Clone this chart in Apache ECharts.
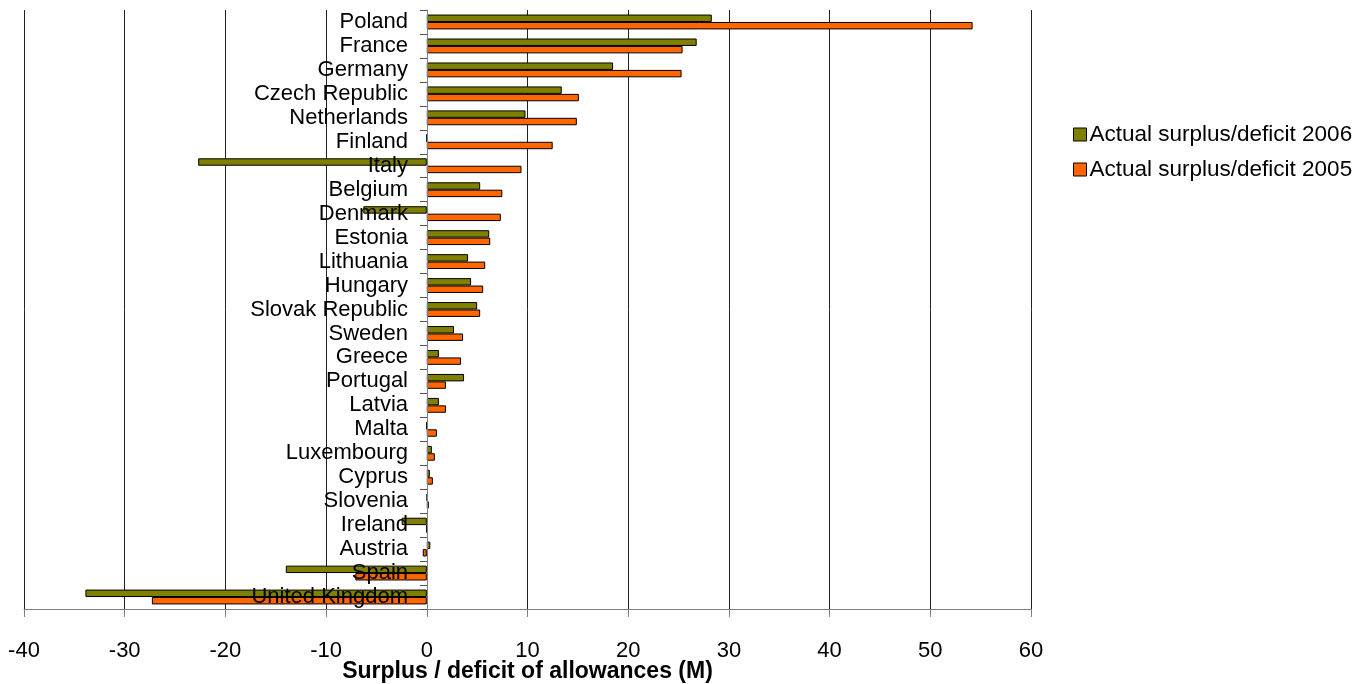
<!DOCTYPE html>
<html><head><meta charset="utf-8">
<script src="https://cdn.jsdelivr.net/npm/echarts@6/dist/echarts.min.js"></script>
<style>html,body{margin:0;padding:0;background:#fff}#c{width:1372px;height:684px}</style>
</head><body><div id="c"></div>
<script>
const categories = ["Poland","France","Germany","Czech Republic","Netherlands","Finland","Italy","Belgium","Denmark","Estonia","Lithuania","Hungary","Slovak Republic","Sweden","Greece","Portugal","Latvia","Malta","Luxembourg","Cyprus","Slovenia","Ireland","Austria","Spain","United Kingdom"];
const surplus2006 = [28.3,26.8,18.5,13.4,9.8,0,-22.7,5.3,-6.3,6.2,4.1,4.4,5.0,2.7,1.2,3.7,1.2,0,0.5,0.3,0.05,-2.5,0.35,-14.0,-33.9];
const surplus2005 = [54.2,25.4,25.3,15.1,14.9,12.5,9.4,7.5,7.35,6.3,5.8,5.6,5.3,3.6,3.4,1.9,1.9,1.0,0.8,0.6,0.2,0,-0.4,-7.1,-27.3];
const seriesNames = ["Actual surplus/deficit 2006","Actual surplus/deficit 2005"];
const xTicks = {min:-40,max:60,interval:10};

const chart = echarts.init(document.getElementById('c'));
const font = 'Liberation Sans, Arial, sans-serif';
chart.setOption({
  animation:false,
  textStyle:{fontFamily:font},
  grid:{left:24,right:341,top:10,bottom:75,containLabel:false,outerBoundsMode:'none'},
  legend:{
    orient:'vertical', left:1068, top:118, itemWidth:13, itemHeight:13, itemGap:12,
    itemStyle:{borderColor:'#000',borderWidth:1},
    icon:'rect',
    textStyle:{fontSize:22.5,color:'#000',fontFamily:font,padding:[0,0,0,-2]},
    data:seriesNames
  },
  xAxis:{
    type:'value', min:xTicks.min, max:xTicks.max, interval:xTicks.interval,
    name:'Surplus / deficit of allowances (M)', nameLocation:'middle', nameGap:51, nameMoveOverlap:false,
    nameTextStyle:{fontSize:23,fontWeight:'bold',color:'#000',fontFamily:font},
    axisLine:{show:true,onZero:false,lineStyle:{color:'#808080',width:1}},
    axisTick:{show:true,length:8,lineStyle:{color:'#808080'}},
    axisLabel:{fontSize:22,color:'#000',margin:31,fontFamily:font},
    splitLine:{show:true,lineStyle:{color:'#222',width:1}}
  },
  yAxis:{
    type:'category', data:categories, inverse:true, z:10, offset:-403,
    axisLine:{onZero:false,lineStyle:{color:'#808080',width:1}},
    axisTick:{show:true,length:7,lineStyle:{color:'#555'}},
    axisLabel:{fontSize:22,color:'#000',margin:19,interval:0,hideOverlap:false,fontFamily:font},
    splitLine:{show:false}
  },
  series:[
    {name:seriesNames[0],type:'bar',data:surplus2006,barGap:'0%',barCategoryGap:'38%',
     itemStyle:{color:'#808000',borderColor:'#000',borderWidth:1}},
    {name:seriesNames[1],type:'bar',data:surplus2005,barGap:'0%',barCategoryGap:'38%',
     itemStyle:{color:'#FF6600',borderColor:'#000',borderWidth:1}}
  ]
});
</script></body></html>
